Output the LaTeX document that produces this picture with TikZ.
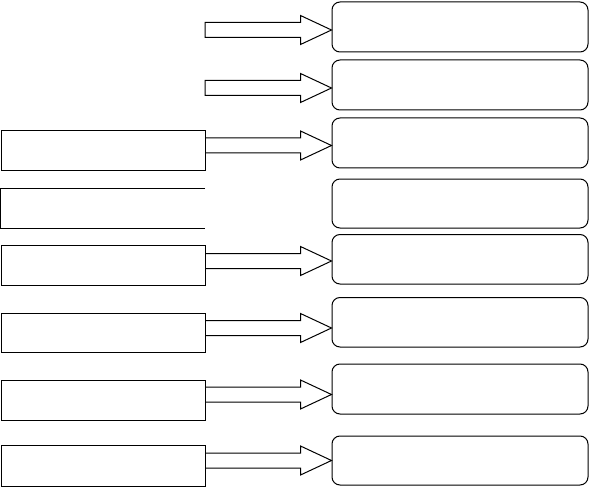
\documentclass[tikz,border=0pt]{standalone}
\usetikzlibrary{calc}
\tikzset{
  rbox/.style={draw, line width=1pt, rounded corners=8pt, minimum width=256pt, minimum height=50pt, inner sep=0pt},
  lbox/.style={draw, line width=1pt, minimum width=204pt, minimum height=40pt, inner sep=0pt},
  obox/.style={minimum width=204pt, minimum height=39pt, inner sep=0pt},
  barr/.style={line width=1pt, line join=miter}
}
% #1 start coordinate, #2 target box
\newcommand\blockarrowc[2]{%
  \draw[barr] ($(#1)+(0,7.5)$) -- ($(#2.west |- #1)+(-31,7.5)$) -- ($(#2.west |- #1)+(-31,14.5)$)
    -- (#2.west |- #1) -- ($(#2.west |- #1)+(-31,-14.5)$) -- ($(#2.west |- #1)+(-31,-7.5)$)
    -- ($(#1)+(0,-7.5)$) -- cycle;}
\newcommand\blockarrowo[2]{%
  \draw[barr] ($(#1)+(0,7.5)$) -- ($(#2.west |- #1)+(-31,7.5)$) -- ($(#2.west |- #1)+(-31,14.5)$)
    -- (#2.west |- #1) -- ($(#2.west |- #1)+(-31,-14.5)$) -- ($(#2.west |- #1)+(-31,-7.5)$)
    -- ($(#1)+(0,-7.5)$);}
\begin{document}
\begin{tikzpicture}[x=1pt,y=1pt]
\useasboundingbox (0,0) rectangle (590,-487);
% right rounded boxes
\node[rbox] (b1) at (460,-27) {};
\node[rbox] (b2) at (460,-85) {};
\node[rbox] (b3) at (460,-143) {};
\node[rbox, minimum height=49pt] (b4) at (460,-203.5) {};
\node[rbox, minimum height=49.5pt] (b5) at (460,-259.25) {};
\node[rbox, minimum height=49.5pt] (b6) at (460,-322.25) {};
\node[rbox] (b7) at (460,-389) {};
\node[rbox, minimum height=49pt] (b8) at (460,-460.5) {};
% left rectangles
\node[lbox] (r3) at (103,-151) {};
\node[obox] (r4) at (103,-208.5) {};
\draw[line width=1pt] (r4.north east) -- (r4.north west) -- (r4.south west) -- (r4.south east);
\node[lbox] (r5) at (103,-265) {};
\node[lbox, minimum height=39pt] (r6) at (103,-332.5) {};
\node[lbox] (r7) at (103,-400) {};
\node[lbox, minimum height=41pt] (r8) at (103,-465.5) {};
% arrow start points
\coordinate (s1) at (205,-30);
\coordinate (s2) at (205,-88);
\coordinate (s3) at (r3.east |- 0,-145.5);
\coordinate (s5) at (r5.east |- 0,-261);
\coordinate (s6) at (r6.east |- 0,-328);
\coordinate (s7) at (r7.east |- 0,-394.5);
\coordinate (s8) at (r8.east |- 0,-460.5);
\blockarrowc{s1}{b1}
\blockarrowc{s2}{b2}
\blockarrowo{s3}{b3}
\blockarrowo{s5}{b5}
\blockarrowo{s6}{b6}
\blockarrowo{s7}{b7}
\blockarrowo{s8}{b8}
\end{tikzpicture}
\end{document}
